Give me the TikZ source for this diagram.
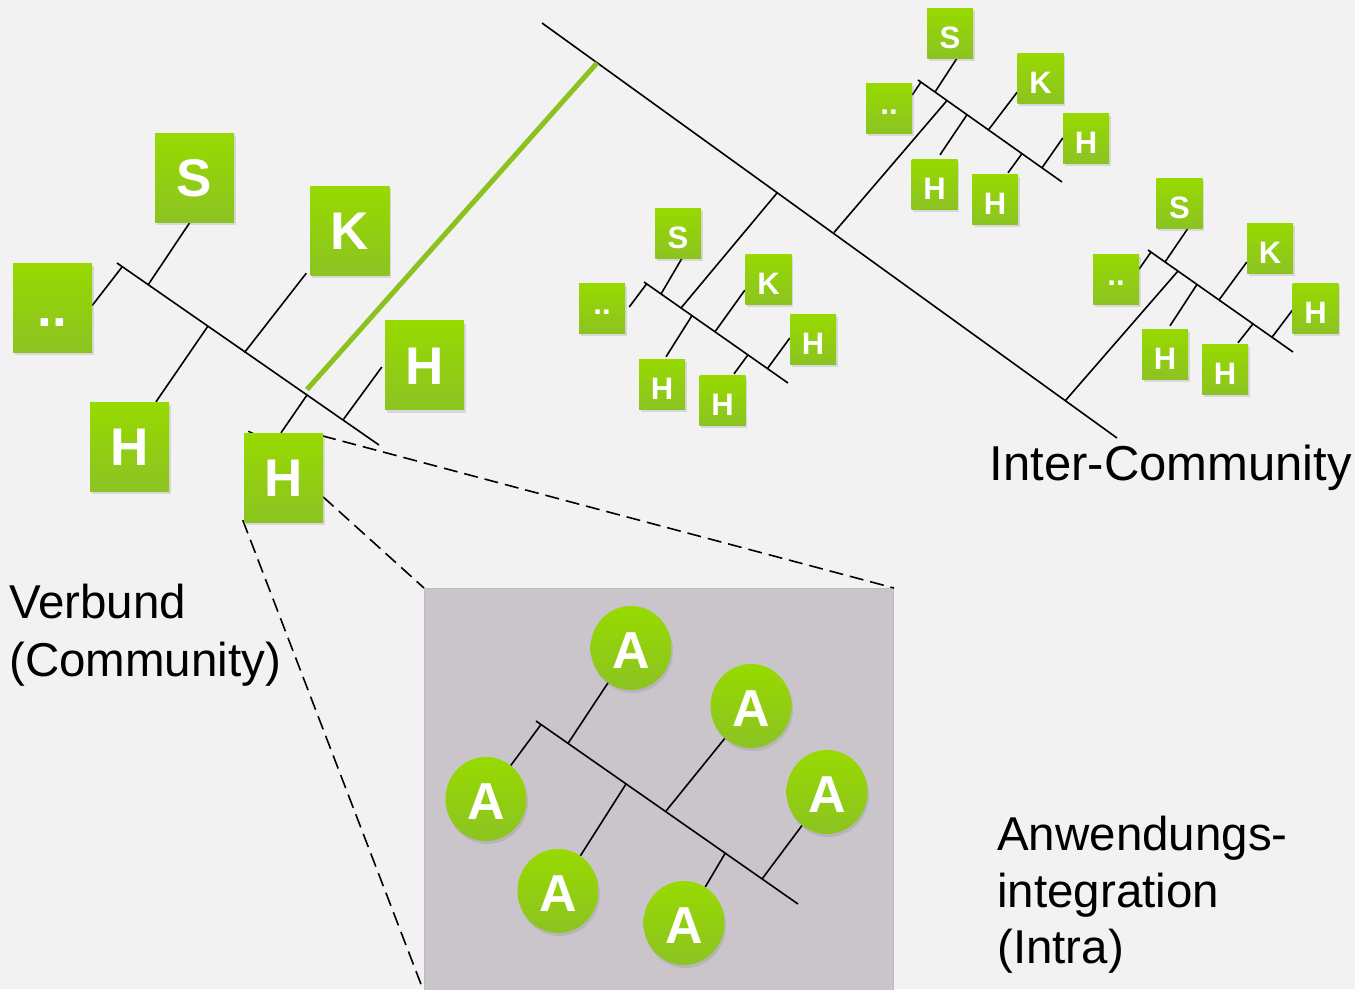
\documentclass[tikz,border=0pt]{standalone}
\usepackage{fontspec}
\setmainfont{Liberation Sans}
\usetikzlibrary{calc,shadows,shapes.geometric}
\pgfdeclarelayer{back}
\pgfdeclarelayer{lines}
\pgfsetlayers{back,lines,main}
\definecolor{bgcol}{HTML}{F2F2F2}
\definecolor{gtop}{HTML}{97DA00}
\definecolor{gbot}{HTML}{8CC322}
\definecolor{gline}{HTML}{8CC21F}
\definecolor{insetfill}{HTML}{C9C5CA}
\definecolor{insetedge}{HTML}{BEBABF}
\tikzset{
  gshade/.style={top color=gtop, bottom color=gbot, draw=none,
    drop shadow={shadow xshift=1.5pt, shadow yshift=-3pt, opacity=0.22}},
  bigbox/.style={gshade, rectangle, minimum width=79pt, minimum height=89pt,
    inner sep=0pt, text=white, font=\fontsize{53}{53}\selectfont\bfseries,
    text height=38pt, text depth=0pt},
  smallbox/.style={gshade, rectangle, minimum width=46pt, minimum height=50pt,
    inner sep=0pt, text=white, font=\fontsize{31}{31}\selectfont\bfseries,
    text height=31pt, text depth=0pt},
  smalldots/.style={smallbox, text height=12pt},
  appnode/.style={gshade, ellipse, minimum width=81pt, minimum height=84pt,
    inner sep=0pt, text=white, font=\fontsize{52}{52}\selectfont\bfseries,
    text height=41pt, text depth=0pt},
  tline/.style={line width=1.6pt, black},
  greenlink/.style={line width=5pt, gline},
  zoomline/.style={line width=1.6pt, black, dash pattern=on 14pt off 7pt},
  lab/.style={inner sep=0pt, anchor=base west, text=black,
    font=\fontsize{47.5}{57}\selectfont}
}
\begin{document}
\begin{tikzpicture}[x=1pt,y=-1pt]
\useasboundingbox (0,0) rectangle (1355,989);
\begin{pgfonlayer}{back}
  \fill[bgcol] (0,0) rectangle (1355,989);
\end{pgfonlayer}

% inset
\begin{pgfonlayer}{back}
\node[draw=insetedge, fill=insetfill, line width=1pt, minimum width=469pt,
  minimum height=403pt, inner sep=0pt, anchor=north west] (inset) at (424,588) {};
\end{pgfonlayer}

% ---------- left community (big boxes)
\node[bigbox] (LS) at (194.5,177.5) {S};
\node[bigbox] (LK) at (350,230.5) {K};
\node[bigbox, text height=37pt] (Ld) at (52.5,307.5) {..};
\node[bigbox] (LH1) at (129.5,446.5) {H};
\node[bigbox] (LH2) at (424.5,365) {H};
\node[bigbox] (LH3) at (283.5,477.5) {H};

% ---------- middle community
\node[smallbox] (MS) at (678,233) {S};
\node[smalldots] (Md) at (602,308) {..};
\node[smallbox] (MK) at (768.5,279) {K};
\node[smallbox] (MH1) at (813,339) {H};
\node[smallbox] (MH2) at (662,384) {H};
\node[smallbox] (MH3) at (722.5,400) {H};

% ---------- top-right community
\node[smallbox] (TS) at (950,33) {S};
\node[smalldots] (Td) at (889,108) {..};
\node[smallbox] (TK) at (1040.5,78) {K};
\node[smallbox] (TH1) at (1086,138) {H};
\node[smallbox] (TH2) at (934.5,184) {H};
\node[smallbox] (TH3) at (995,199) {H};

% ---------- right community
\node[smallbox] (RS) at (1179.5,203) {S};
\node[smalldots] (Rd) at (1116,279) {..};
\node[smallbox] (RK) at (1270,248) {K};
\node[smallbox] (RH1) at (1315.5,308) {H};
\node[smallbox] (RH2) at (1165,354) {H};
\node[smallbox] (RH3) at (1225,369) {H};

% ---------- inset applications
\node[appnode] (A1) at (631,648) {A};
\node[appnode] (A2) at (751,706) {A};
\node[appnode] (A3) at (486,799) {A};
\node[appnode] (A4) at (827,792) {A};
\node[appnode] (A5) at (558,891) {A};
\node[appnode] (A6) at (684,923) {A};

% ---------- labels
\node[lab] (lverbund) at (9,618) {Verbund};
\node[lab] (lcommunity) at (9,676) {(Community)};
\node[lab, font=\fontsize{49}{57}\selectfont] (linter) at (989.5,480) {Inter-Community};
\node[lab] (lanw) at (997,850) {Anwendungs-};
\node[lab] (lint) at (997,907) {integration};
\node[lab] (lintra) at (997,963) {(Intra)};

\begin{pgfonlayer}{lines}
% zoom lines
\draw[zoomline] ($(LH3.north east)+(-1,3)$) -- (inset.north east);
\draw[zoomline] ($(LH3.east)+(0,19.5)$) -- (inset.north west);
\draw[zoomline] ($(LH3.south west)+(-1,-2)$) -- (inset.south west);
\draw[line width=1.4pt] ($(LH3.north west)+(4.5,-1.5)$) -- ++(5,2.2);

% left community bus
\coordinate (La) at (117,263); \coordinate (Lb) at (379,445);
\draw[tline] (La) -- (Lb);
\coordinate (Lj1) at (122,267);
\coordinate (Lj2) at (148,285);
\coordinate (Lj3) at (208,326);
\coordinate (Lj4) at (244.5,352.5);
\coordinate (Lj5) at (307,395);
\coordinate (Lj6) at (343,420);
\draw[tline] (Lj1) -- ($(Ld.east)+(0,-2)$);
\draw[tline] (Lj2) -- ($(LS.south)+(-4.5,0)$);
\draw[tline] (Lj3) -- ($(LH1.north)+(26.5,0)$);
\draw[tline] (Lj4) -- ($(LK.south west)+(-4,-2)$);
\draw[tline] (Lj5) -- ($(LH3.north)+(-2.5,0)$);
\draw[tline] (Lj6) -- ($(LH2.west)+(-3,2)$);

% inter-community backbone
\coordinate (Ba) at (542,23); \coordinate (Bb) at (1117,438);
\draw[tline] (Ba) -- (Bb);
\coordinate (Gj) at (597,63); \coordinate (Lg) at (307,389.5);
\draw[greenlink] (Lg) -- (Gj);
\coordinate (Bj1) at (777,193);
\coordinate (Bj2) at (834,232.5);
\coordinate (Bj3) at (1065,401);

% middle community
\coordinate (Ma) at (644,282); \coordinate (Mb) at (788,383);
\draw[tline] (Ma) -- (Mb);
\coordinate (Mlink) at (681,308);
\draw[tline] (Bj1) -- (Mlink);
\coordinate (Mj1) at (646.5,284);
\coordinate (Mj2) at (661,294);
\coordinate (Mj3) at (692,315.6);
\coordinate (Mj4) at (715,331.7);
\coordinate (Mj5) at (748,354.8);
\coordinate (Mj6) at (767.5,368.5);
\draw[tline] (Mj1) -- ($(Md.east)+(4,-1)$);
\draw[tline] (Mj2) -- ($(MS.south)+(4,0)$);
\draw[tline] (Mj3) -- ($(MH2.north)+(4,-2)$);
\draw[tline] (Mj4) -- ($(MK.south west)+(-0.5,-14)$);
\draw[tline] (Mj5) -- ($(MH3.north)+(11.5,-1)$);
\draw[tline] (Mj6) -- ($(MH1.west)+(0,-1)$);

% top-right community
\coordinate (Ta) at (918,80); \coordinate (Tb) at (1062,182);
\draw[tline] (Ta) -- (Tb);
\coordinate (Tlink) at (947,100.5);
\draw[tline] (Bj2) -- (Tlink);
\coordinate (Tj1) at (921,82);
\coordinate (Tj2) at (935,92);
\coordinate (Tj3) at (967,114.7);
\coordinate (Tj4) at (988,130.5);
\coordinate (Tj5) at (1022,153.6);
\coordinate (Tj6) at (1042,167.8);
\draw[tline] (Tj1) -- ($(Td.east)+(0,-13)$);
\draw[tline] (Tj2) -- ($(TS.south)+(7,0)$);
\draw[tline] (Tj3) -- ($(TH2.north)+(5.5,-4)$);
\draw[tline] (Tj4) -- ($(TK.west)+(0,14)$);
\draw[tline] (Tj5) -- ($(TH3.north)+(13,-1)$);
\draw[tline] (Tj6) -- (TH1.west);

% right community
\coordinate (Ra) at (1148,250); \coordinate (Rb) at (1293,352);
\draw[tline] (Ra) -- (Rb);
\coordinate (Rlink) at (1178,271);
\draw[tline] (Bj3) -- (Rlink);
\coordinate (Rj1) at (1151,252);
\coordinate (Rj2) at (1165,262);
\coordinate (Rj3) at (1197,284.4);
\coordinate (Rj4) at (1219,300);
\coordinate (Rj5) at (1253,323.8);
\coordinate (Rj6) at (1272,337.2);
\draw[tline] (Rj1) -- ($(Rd.east)+(0,-10)$);
\draw[tline] (Rj2) -- ($(RS.south)+(8.5,0)$);
\draw[tline] (Rj3) -- ($(RH2.north)+(5,-3)$);
\draw[tline] (Rj4) -- ($(RK.west)+(0,14)$);
\draw[tline] (Rj5) -- ($(RH3.north)+(13,-1)$);
\draw[tline] (Rj6) -- ($(RH1.west)+(1,1)$);

% inset application bus
\coordinate (Aa) at (536,721); \coordinate (Ab) at (798,904);
\draw[tline] (Aa) -- (Ab);
\coordinate (Aj1) at (541,724.5);
\coordinate (Aj2) at (568,743.4);
\coordinate (Aj3) at (626,784);
\coordinate (Aj4) at (666,811);
\coordinate (Aj5) at (725,853.5);
\coordinate (Aj6) at (762,879);
\draw[tline] (Aj1) -- (A3);
\draw[tline] (Aj2) -- (A1);
\draw[tline] (Aj3) -- (A5);
\draw[tline] (Aj4) -- (A2);
\draw[tline] (Aj5) -- (A6);
\draw[tline] (Aj6) -- (A4);
\end{pgfonlayer}
\end{tikzpicture}
\end{document}
